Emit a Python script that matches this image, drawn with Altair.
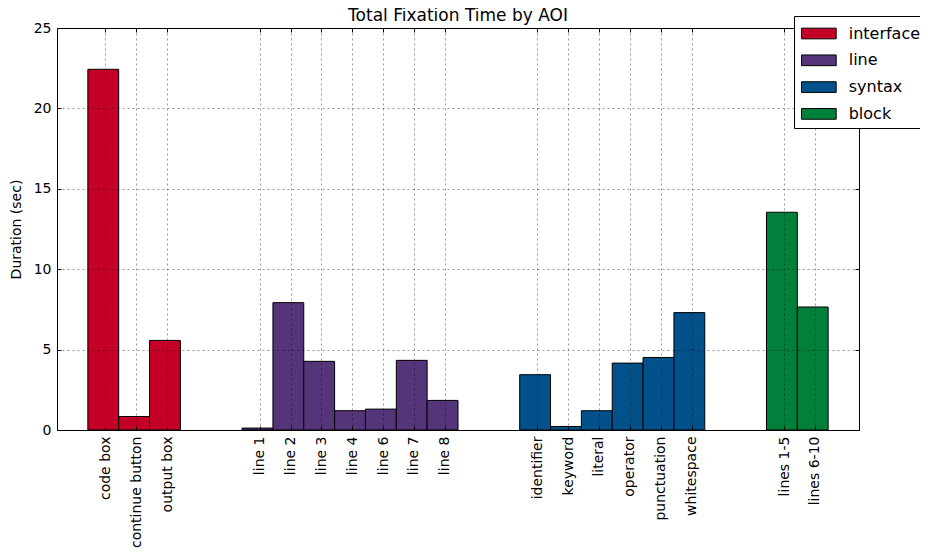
import altair as alt
import pandas as pd

categories = ["code box", "continue button", "output box",
              "line 1", "line 2", "line 3", "line 4", "line 6", "line 7", "line 8",
              "identifier", "keyword", "literal", "operator", "punctuation", "whitespace",
              "lines 1-5", "lines 6-10"]
groups = ["interface"] * 3 + ["line"] * 7 + ["syntax"] * 6 + ["block"] * 2
values = [22.43, 0.84, 5.57,
          0.12, 7.92, 4.27, 1.20, 1.30, 4.33, 1.84,
          3.44, 0.22, 1.20, 4.16, 4.51, 7.30,
          13.54, 7.65]
group_order = ["interface", "line", "syntax", "block"]
group_colors = ["#C50026", "#54357A", "#02518A", "#00803A"]
y_ticks = [0, 5, 10, 15, 20, 25]

# slot positions: consecutive inside a group, two empty slots between groups
slots = []
pos, prev = 0, None
for g in groups:
    if prev is not None and g != prev:
        pos += 2
    slots.append(pos)
    pos += 1
    prev = g

TICK_SHIFT = 0.57
ticks = [round(s + TICK_SHIFT, 2) for s in slots]
label_arr = [""] * (max(slots) + 1)
for s, c in zip(slots, categories):
    label_arr[s] = c
label_expr = "[" + ",".join("'" + l + "'" for l in label_arr) + "][floor(datum.value)]"

df = pd.DataFrame({
    "category": categories,
    "group": groups,
    "value": values,
    "x": slots,
    "x2": [s + 1 for s in slots],
})

FONT = "DejaVu Sans"
xscale = alt.Scale(domain=[-1, 25], nice=False, zero=False)
yscale = alt.Scale(domain=[0, 25], nice=False)

bars = alt.Chart(df).mark_rect(stroke="black", strokeWidth=1).encode(
    x=alt.X("x:Q", scale=xscale,
            axis=alt.Axis(orient="bottom", values=ticks, labelExpr=label_expr,
                          labelAngle=-90, title=None, grid=True, ticks=False,
                          labelPadding=6, labelFontSize=14, labelColor="black",
                          domain=False, zindex=1)),
    x2="x2:Q",
    y=alt.Y("value:Q", scale=yscale,
            axis=alt.Axis(orient="left", values=y_ticks, title="Duration (sec)",
                          grid=True, ticks=False, labelPadding=6, labelFontSize=14,
                          labelColor="black", titleFontSize=14, titleFontWeight="normal",
                          titleColor="black", titlePadding=10, domain=False, zindex=1)),
    color=alt.Color("group:N",
                    scale=alt.Scale(domain=group_order, range=group_colors),
                    legend=alt.Legend(
                        title=None, orient="none", legendX=737, legendY=-12,
                        symbolType="M-0.909,-0.486 L2.245,-0.486 L2.245,0.486 L-0.909,0.486 Z",
                        symbolSize=484, symbolStrokeColor="black", symbolStrokeWidth=1,
                        symbolOpacity=1, labelFontSize=16, labelColor="black",
                        labelOffset=25.7, rowPadding=6.8, padding=6,
                        strokeColor="black", fillColor="white", cornerRadius=0,
                        zindex=3)),
)


def tick_layer(xorient, yorient):
    return alt.Chart(df).mark_point(opacity=0).encode(
        x=alt.X("x:Q", scale=xscale,
                axis=alt.Axis(orient=xorient, values=ticks, labels=False, title=None,
                              grid=False, domain=False, ticks=True, tickSize=4,
                              tickColor="black", tickWidth=1, offset=-4, zindex=1)),
        y=alt.Y("value:Q", scale=yscale,
                axis=alt.Axis(orient=yorient, values=y_ticks, labels=False, title=None,
                              grid=False, domain=False, ticks=True, tickSize=4,
                              tickColor="black", tickWidth=1, offset=-4, zindex=1)),
    )


chart = alt.layer(
    bars, tick_layer("top", "right"), tick_layer("bottom", "left")
).resolve_scale(
    x="independent", y="independent", color="independent"
).properties(
    width=802,
    height=402,
    autosize=alt.AutoSizeParams(type="none"),
    padding={"left": 49, "top": 20, "right": 61, "bottom": 119},
    title=alt.TitleParams("Total Fixation Time by AOI", fontSize=17,
                          fontWeight="normal", color="black", offset=-9.5, font=FONT),
).configure(
    font=FONT,
    background="white",
).configure_view(
    stroke="black", strokeWidth=1,
).configure_axis(
    gridColor="black", gridOpacity=0.4, gridDash=[2, 3], gridWidth=1,
    labelFont=FONT, titleFont=FONT,
).configure_legend(
    labelFont=FONT,
)

chart.save("out.html", embed_options={"renderer": "svg", "actions": False})
